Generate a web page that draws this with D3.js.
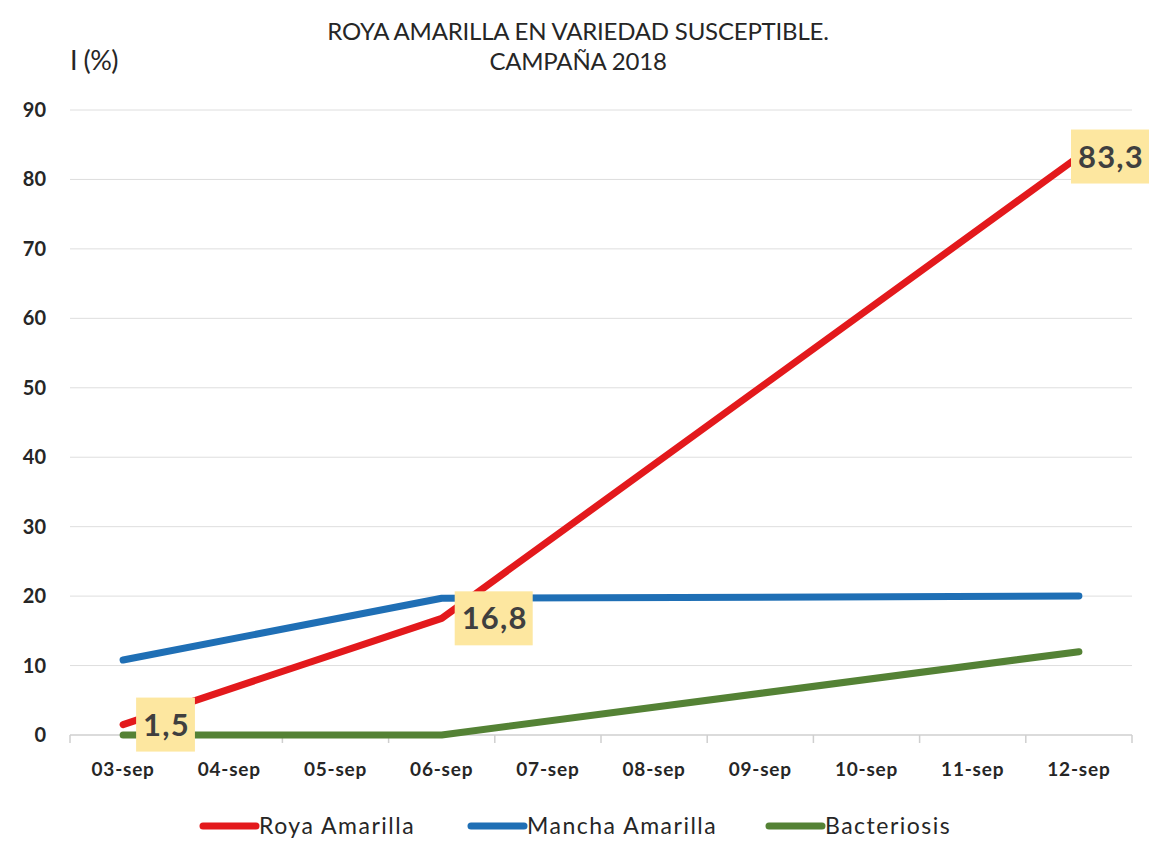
<!DOCTYPE html>
<html>
<head>
<meta charset="utf-8">
<script src="https://cdn.jsdelivr.net/npm/d3@7"></script>
<style>
  body { margin: 0; background: #fff; }
  svg text { font-family: Lato, "Open Sans", sans-serif; }
</style>
</head>
<body>
<div id="chart"></div>
<script>
// categories and series (null = no reading that day)
const dates = ["03-sep", "04-sep", "05-sep", "06-sep", "07-sep", "08-sep", "09-sep", "10-sep", "11-sep", "12-sep"];
const roya = [1.5, null, null, 16.8, null, null, null, null, null, 83.3];
const mancha = [10.8, null, null, 19.7, null, null, null, null, null, 20.0];
const bacteriosis = [0, null, null, 0, null, null, null, null, null, 12.0];
const yTicks = [0, 10, 20, 30, 40, 50, 60, 70, 80, 90];
const labelled = [0, 3, 9]; // points of Roya Amarilla that carry a label

const width = 1156, height = 841;
const margin = { top: 110, right: 24, bottom: 106, left: 70 };

const svg = d3.select("#chart").append("svg")
    .attr("width", width)
    .attr("height", height);

const x = d3.scaleBand()
    .domain(dates)
    .range([margin.left, width - margin.right]);

const y = d3.scaleLinear()
    .domain([0, 90])
    .range([height - margin.bottom, margin.top]);

// gridlines
svg.append("g")
    .selectAll("line")
    .data(yTicks)
    .enter()
    .append("line")
    .attr("x1", margin.left)
    .attr("x2", width - margin.right)
    .attr("y1", d => y(d))
    .attr("y2", d => y(d))
    .attr("stroke", d => d === 0 ? "#cfcfcf" : "#dedede")
    .attr("stroke-width", d => d === 0 ? 1.5 : 1);

// y tick labels
svg.append("g")
    .selectAll("text")
    .data(yTicks)
    .enter()
    .append("text")
    .attr("x", 46)
    .attr("y", d => y(d))
    .attr("dy", "0.35em")
    .attr("text-anchor", "end")
    .attr("font-size", 20)
    .attr("font-weight", "bold")
    .attr("fill", "#262626")
    .text(d => d);

// x axis
const xAxis = svg.append("g")
    .attr("transform", `translate(0,${y(0)})`)
    .call(d3.axisBottom(x).tickSize(0).tickPadding(28));
xAxis.select(".domain").remove();
xAxis.selectAll("text")
    .attr("font-size", 19)
    .attr("font-weight", "bold")
    .attr("letter-spacing", 0.8)
    .attr("fill", "#262626")
    .attr("font-family", "Lato, sans-serif");

// tick marks at band edges
const edges = dates.map(d => x(d)).concat([x(dates[dates.length - 1]) + x.bandwidth()]);
svg.append("g")
    .selectAll("line")
    .data(edges)
    .enter()
    .append("line")
    .attr("x1", d => d)
    .attr("x2", d => d)
    .attr("y1", y(0))
    .attr("y2", y(0) + 8)
    .attr("stroke", "#cfcfcf")
    .attr("stroke-width", 1.5);

const series = [
    { name: "Roya Amarilla", values: roya, color: "#e3191c" },
    { name: "Mancha Amarilla", values: mancha, color: "#1f6fb5" },
    { name: "Bacteriosis", values: bacteriosis, color: "#548235" }
];

const line = d3.line()
    .x(d => x(d.date) + x.bandwidth() / 2)
    .y(d => y(d.v));

// draw back to front so red sits on top
series.slice().reverse().forEach(s => {
    const pts = dates.map((d, i) => ({ date: d, v: s.values[i] }))
        .filter(p => p.v !== null);
    svg.append("path")
        .datum(pts)
        .attr("d", line)
        .attr("fill", "none")
        .attr("stroke", s.color)
        .attr("stroke-width", 7)
        .attr("stroke-linecap", "round")
        .attr("stroke-linejoin", "round");
});

// data labels
labelled.forEach(i => {
    const cx = x(dates[i]) + x.bandwidth() / 2;
    const cy = y(roya[i]);
    const txt = d3.format(".1f")(roya[i]).replace(".", ",");
    const g = svg.append("g");
    const t = g.append("text")
        .attr("x", cx + 20)
        .attr("y", cy)
        .attr("dy", "0.36em")
        .attr("font-size", 31)
        .attr("font-weight", "bold")
        .attr("letter-spacing", 1.2)
        .attr("fill", "#3f3f3f")
        .text(txt);
    let bb = t.node().getBBox();
    // keep the label inside the picture, as the spreadsheet does
    const overflow = bb.x + bb.width + 6 - (width - 6);
    if (overflow > 0) {
        t.attr("x", cx + 20 - overflow);
        bb = t.node().getBBox();
    }
    g.insert("rect", "text")
        .attr("x", bb.x - 7)
        .attr("y", cy - 27)
        .attr("width", bb.width + 12)
        .attr("height", 54)
        .attr("fill", "#fde7a0");
});

// title
svg.append("text")
    .attr("x", 578)
    .attr("y", 40)
    .attr("text-anchor", "middle")
    .attr("font-size", 24)
    .attr("fill", "#262626")
    .attr("letter-spacing", -0.2)
    .text("ROYA AMARILLA EN VARIEDAD SUSCEPTIBLE.");
svg.append("text")
    .attr("x", 578)
    .attr("y", 70)
    .attr("text-anchor", "middle")
    .attr("font-size", 24)
    .attr("fill", "#262626")
    .attr("letter-spacing", -0.2)
    .text("CAMPAÑA 2018");

// y axis title
svg.append("text")
    .attr("x", 70)
    .attr("y", 70)
    .attr("font-size", 27)
    .attr("fill", "#262626")
    .attr("letter-spacing", -0.5)
    .text("I (%)");

// legend
const legendX = [203, 471, 769];
series.forEach((s, i) => {
    const g = svg.append("g").attr("transform", `translate(${legendX[i]},826)`);
    g.append("line")
        .attr("x1", 0).attr("x2", 53)
        .attr("stroke", s.color)
        .attr("stroke-width", 7)
        .attr("stroke-linecap", "round");
    g.append("text")
        .attr("x", 56)
        .attr("dy", "0.35em")
        .attr("font-size", 23)
        .attr("fill", "#262626")
        .attr("letter-spacing", 1.5)
        .text(s.name);
});
</script>
</body>
</html>
